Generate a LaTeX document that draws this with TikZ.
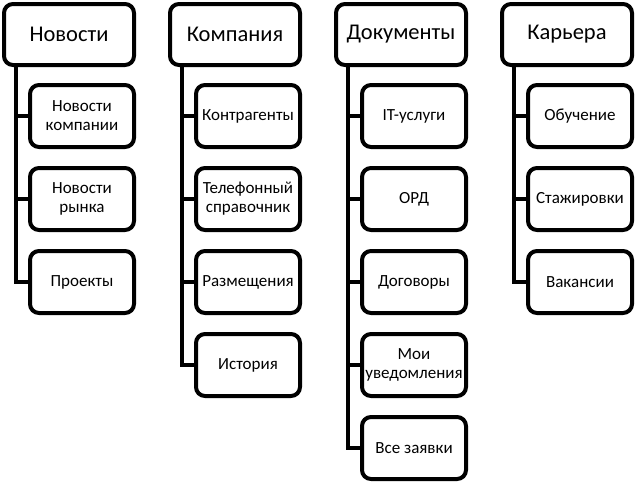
\documentclass[tikz,border=0pt]{standalone}
\usepackage{fontspec}
\setmainfont{Carlito}
\usepackage{tikz}
\usetikzlibrary{positioning}

\begin{document}
\begin{tikzpicture}[x=1pt,y=1pt,line width=4pt,
                    head/.style={draw,rounded corners=9pt,minimum width=130pt,minimum height=61pt,
                                 inner sep=2pt,font=\fontsize{22.5}{26}\selectfont},
                    item/.style={draw,rounded corners=9pt,minimum width=104pt,minimum height=62pt,
                                 inner sep=0pt,align=center,font=\fontsize{17}{19}\selectfont}]

	\useasboundingbox (0,0) rectangle (636,-482);

	\node[head,anchor=north west] (1) at (2,-2) {Новости};
	\node[head] (2) [right=32pt of 1] {Компания};
	\node[head] (3) [right=32pt of 2] {Документы};
	\node[head] (4) [right=32pt of 3] {Карьера};

	\node[item,below=16pt of 1.south east,anchor=north east] (1a) {Новости\\компании};
	\node[item] (1b) [below=17pt of 1a] {Новости\\рынка};
	\node[item] (1c) [below=17pt of 1b] {Проекты};

	\node[item,below=16pt of 2.south east,anchor=north east] (2a) {Контрагенты};
	\node[item] (2b) [below=17pt of 2a] {Телефонный\\справочник};
	\node[item] (2c) [below=17pt of 2b] {Размещения};
	\node[item] (2d) [below=17pt of 2c] {История};

	\node[item,below=16pt of 3.south east,anchor=north east] (3a) {IT-услуги};
	\node[item] (3b) [below=17pt of 3a] {ОРД};
	\node[item] (3c) [below=17pt of 3b] {Договоры};
	\node[item] (3d) [below=17pt of 3c] {Мои\\уведомления};
	\node[item] (3e) [below=17pt of 3d] {Все заявки};

	\node[item,below=16pt of 4.south east,anchor=north east] (4a) {Обучение};
	\node[item] (4b) [below=17pt of 4a] {Стажировки};
	\node[item] (4c) [below=17pt of 4b] {Вакансии};

	% spine and stubs
	\foreach \col/\last/\mids in {1/c/{a,b},2/d/{a,b,c},3/e/{a,b,c,d},4/c/{a,b}} {
		\coordinate (\col t) at ([xshift=14pt]\col.south west);
		\draw (\col t) |- (\col\last.west);
		\foreach \m in \mids
			\draw (\col t |- \col\m.west) -- (\col\m.west);
	}
\end{tikzpicture}
\end{document}
